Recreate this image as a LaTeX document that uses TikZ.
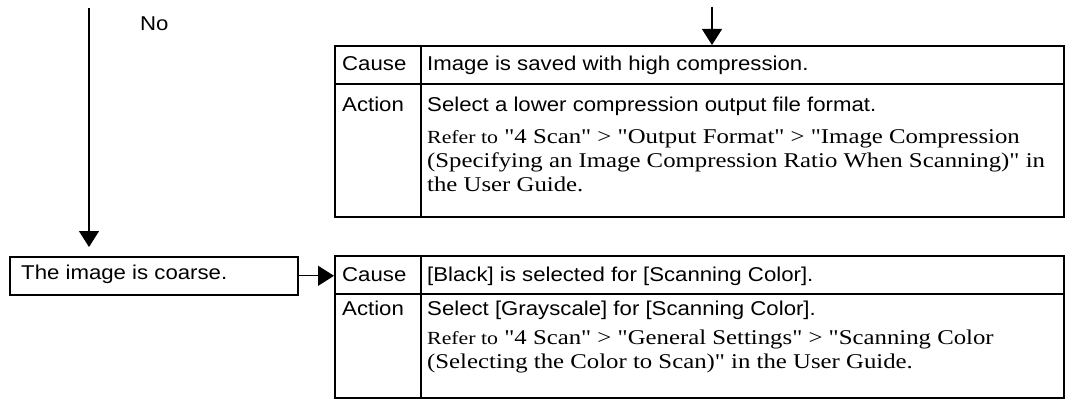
\documentclass[tikz,border=0pt]{standalone}
\usepackage{fontspec}
\setmainfont{Liberation Serif}[FakeStretch=1.18,Ligatures=TeXOff]
\setsansfont{Liberation Sans}[FakeStretch=1.11]
\usetikzlibrary{arrows.meta,positioning}
\newcommand{\referto}{{\fontsize{18.5}{24.5}\selectfont Refer to}}

\begin{document}
\begin{tikzpicture}[x=1pt,y=-1pt,
  cell/.style={draw,line width=1.6pt,inner sep=0pt,anchor=north west},
  sans/.style={font=\sffamily\fontsize{20}{24.5}\selectfont,inner sep=0pt,anchor=base west},
  serif/.style={font=\rmfamily\fontsize{21}{24}\selectfont,inner sep=0pt,anchor=north west,align=left},
  flow/.style={line width=1.2pt,-{Triangle[length=16pt,width=20pt]}}]
  \useasboundingbox (0,0) rectangle (1065,401);
  % upper table
  \node[cell,minimum width=86pt,minimum height=38pt] (causeA) at (334,45) {};
  \node[cell,minimum width=643pt,minimum height=38pt] (causeAtxt) at (420,45) {};
  \node[cell,minimum width=86pt,minimum height=133pt] (actA) at (334,83) {};
  \node[cell,minimum width=643pt,minimum height=133pt] (actAtxt) at (420,83) {};
  \node[sans] (causeAlab) at (342,71) {Cause};
  \node[sans] (causeAtext) at (427,71) {Image is saved with high compression.};
  \node[sans] (actAlab) at (342,112) {Action};
  \node[sans] (actAtext) at (427,112) {Select a lower compression output file format.};
  \node[serif] (refA) at (427,129) {\referto{} "4 Scan" > "Output Format" > "Image Compression\\
    (Specifying an Image Compression Ratio When Scanning)" in\\
    the User Guide.};
  % lower table
  \node[cell,minimum width=86pt,minimum height=38pt] (causeB) at (334,255) {};
  \node[cell,minimum width=643pt,minimum height=38pt] (causeBtxt) at (420,255) {};
  \node[cell,minimum width=86pt,minimum height=104pt] (actB) at (334,293) {};
  \node[cell,minimum width=643pt,minimum height=104pt] (actBtxt) at (420,293) {};
  \node[sans] (causeBlab) at (342,281) {Cause};
  \node[sans] (causeBtext) at (427,281) {[Black] is selected for [Scanning Color].};
  \node[sans] (actBlab) at (342,315) {Action};
  \node[sans] (actBtext) at (427,315) {Select [Grayscale] for [Scanning Color].};
  \node[serif] (refB) at (427,330) {\referto{} "4 Scan" > "General Settings" > "Scanning Color\\
    (Selecting the Color to Scan)" in the User Guide.};
  % symptom box
  \node[cell,minimum width=288pt,minimum height=38pt] (coarse) at (9,256) {};
  \node[sans] (coarseTxt) at (21,279) {The image is coarse.};
  \node[sans] (no) at (140,30.5) {No};
  % connectors
  \coordinate (noTop) at (89,8);
  \coordinate (yesTop) at (712,7);
  \draw[flow,shorten >=9pt] (noTop) -- (noTop |- coarse.north);
  \draw[flow] (yesTop) -- (yesTop |- causeAtxt.north);
  \draw[flow] (coarse.east) -- (coarse.east -| causeB.west);
\end{tikzpicture}
\end{document}
